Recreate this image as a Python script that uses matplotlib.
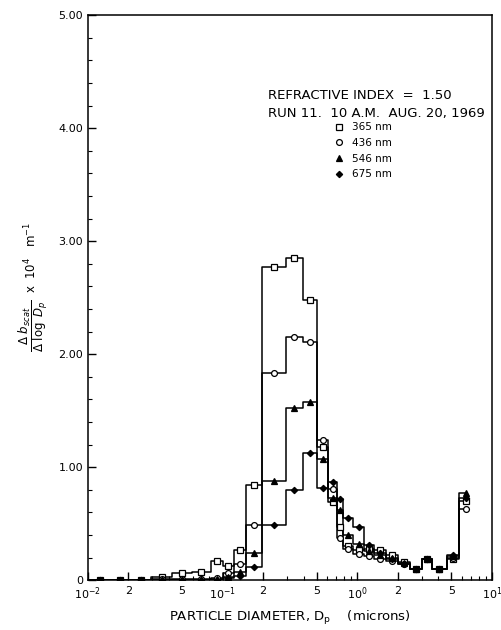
import numpy as np
import matplotlib
matplotlib.use("Agg")
import matplotlib.pyplot as plt
from matplotlib.lines import Line2D
from matplotlib.ticker import LogLocator, MultipleLocator

# size bin edges (microns)
edges = [0.0103, 0.0145, 0.0207, 0.0296, 0.0422, 0.059, 0.082, 0.100, 0.122,
         0.150, 0.197, 0.296, 0.395, 0.50, 0.61, 0.71, 0.79, 0.935, 1.13,
         1.33, 1.63, 2.0, 2.45, 3.0, 3.6, 4.6, 5.7, 7.3]

wavelengths = ["365 nm", "436 nm", "546 nm", "675 nm"]

b365 = [0.00, 0.00, 0.00, 0.03, 0.06, 0.07, 0.17, 0.13, 0.27, 0.84, 2.77, 2.85,
        2.48, 1.18, 0.69, 0.47, 0.30, 0.27, 0.28, 0.27, 0.22, 0.16, 0.10, 0.19,
        0.10, 0.19, 0.70]
b436 = [0.00, 0.00, 0.00, 0.01, 0.01, 0.01, 0.02, 0.06, 0.14, 0.49, 1.83, 2.15,
        2.11, 1.24, 0.81, 0.37, 0.28, 0.23, 0.21, 0.19, 0.17, 0.14, 0.10, 0.19,
        0.10, 0.20, 0.63]
b546 = [0.00, 0.00, 0.00, 0.00, 0.00, 0.00, 0.01, 0.03, 0.07, 0.24, 0.88, 1.52,
        1.58, 1.07, 0.73, 0.62, 0.40, 0.32, 0.26, 0.22, 0.20, 0.15, 0.10, 0.19,
        0.10, 0.21, 0.77]
b675 = [0.00, 0.00, 0.00, 0.00, 0.00, 0.00, 0.00, 0.02, 0.04, 0.12, 0.49, 0.80,
        1.13, 0.82, 0.87, 0.72, 0.55, 0.47, 0.31, 0.24, 0.19, 0.14, 0.10, 0.19,
        0.10, 0.22, 0.73]

series = [b365, b436, b546, b675]
markers = ["s", "o", "^", "D"]
faces = ["white", "white", "black", "black"]
msizes = [4.2, 4.2, 4.2, 3.2]

fig = plt.figure(figsize=(5.02, 6.30), dpi=100)
ax = fig.add_axes([0.175, 0.079, 0.805, 0.897])

e = np.array(edges)
centers = np.sqrt(e[:-1] * e[1:])
centers[-1] = e[-2] * 1.12

for vals, m, fc, ms in zip(series, markers, faces, msizes):
    v = np.array(vals)
    xs = np.repeat(e, 2)[1:-1].copy()
    ys = np.repeat(v, 2)
    xs[-1] = centers[-1]
    ax.plot(xs, ys, color="black", lw=1.1, zorder=2)
    ax.plot(centers, v, linestyle="none", marker=m, markersize=ms,
            markerfacecolor=fc, markeredgecolor="black", markeredgewidth=0.9,
            zorder=3)

ax.set_xscale("log")
ax.set_xlim(0.01, 10)
ax.set_ylim(0, 5.0)

ax.set_xticks([0.01, 0.02, 0.05, 0.1, 0.2, 0.5, 1, 2, 5, 10])
ax.set_xticklabels([r"$10^{-2}$", "2", "5", r"$10^{-1}$", "2", "5",
                    r"$10^{0}$", "2", "5", r"$10^{1}$"])
ax.xaxis.set_minor_locator(LogLocator(base=10, subs=np.arange(2, 10)))
ax.xaxis.set_minor_formatter(plt.NullFormatter())

ax.set_yticks([0, 1, 2, 3, 4, 5])
ax.set_yticklabels(["0", "1.00", "2.00", "3.00", "4.00", "5.00"])
ax.yaxis.set_minor_locator(MultipleLocator(0.2))

ax.tick_params(axis="both", which="major", direction="in", length=6,
               width=1.0, labelsize=8)
ax.tick_params(axis="both", which="minor", direction="in", length=3,
               width=0.8)
ax.tick_params(axis="x", pad=4)
for sp in ax.spines.values():
    sp.set_linewidth(1.1)

ax.text(0.445, 0.858, "REFRACTIVE INDEX  =  1.50", transform=ax.transAxes,
        fontsize=9.5, va="center")
ax.text(0.445, 0.826, "RUN 11.  10 A.M.  AUG. 20, 1969", transform=ax.transAxes,
        fontsize=9.5, va="center")

handles = [Line2D([], [], linestyle="none", marker=m, markersize=ms,
                  markerfacecolor=fc, markeredgecolor="black",
                  markeredgewidth=0.9)
           for m, fc, ms in zip(markers, faces, msizes)]
ax.legend(handles, wavelengths, loc="upper left",
          bbox_to_anchor=(0.585, 0.827), frameon=False, fontsize=7.5,
          handlelength=1.0, handletextpad=0.8, labelspacing=0.55)

ax.set_xlabel(r"PARTICLE DIAMETER, D$_\mathregular{p}$    (microns)",
              fontsize=9.5, labelpad=5)
ax.set_ylabel(r"$\dfrac{\Delta\ b_{scat}}{\Delta\ \log\ D_p}$  x  10$^4$   m$^{-1}$",
              fontsize=8.5, labelpad=6, y=0.52)

fig.savefig("out.png", dpi=100)
